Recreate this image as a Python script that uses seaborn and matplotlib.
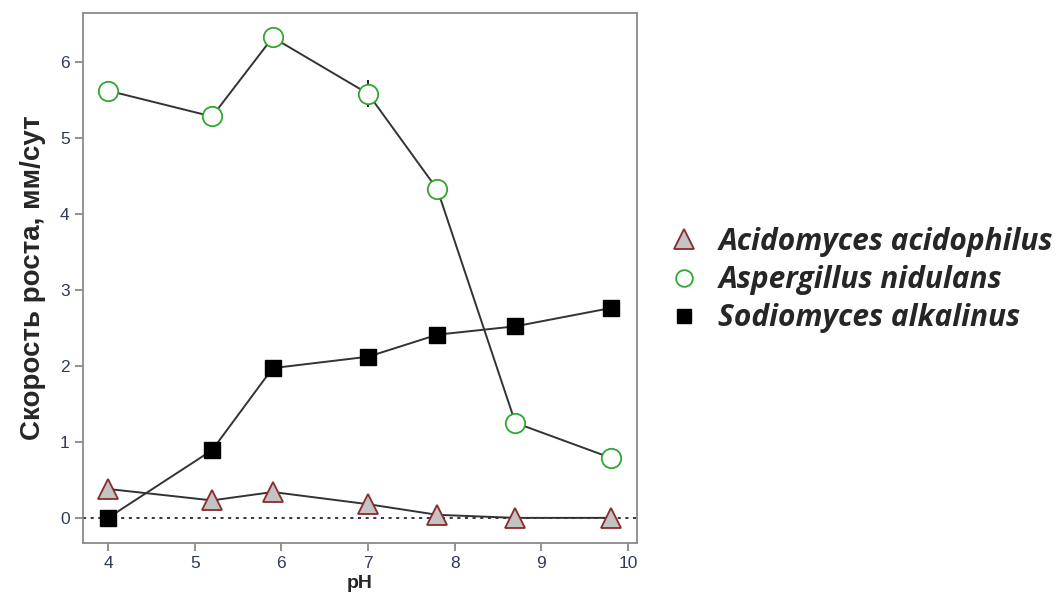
import numpy as np
import pandas as pd
import matplotlib.pyplot as plt
import seaborn as sns
from matplotlib.lines import Line2D

# данные
ph = [4.0, 5.2, 5.9, 7.0, 7.8, 8.7, 9.8]
acidomyces = [0.38, 0.23, 0.34, 0.18, 0.04, 0.0, 0.0]
aspergillus = [5.62, 5.28, 6.32, 5.58, 4.32, 1.25, 0.79]
aspergillus_err = [0, 0, 0, 0.18, 0, 0, 0]
sodiomyces = [0.0, 0.89, 1.97, 2.12, 2.41, 2.52, 2.76]

species = ["Acidomyces acidophilus", "Aspergillus nidulans", "Sodiomyces alkalinus"]

sns.set_style("ticks")
plt.rcParams['font.family'] = ['Liberation Sans', 'DejaVu Sans']

fig = plt.figure(figsize=(10.63, 5.96), dpi=100)
ax = fig.add_axes([0.078, 0.089, 0.521, 0.889])

line_col = "#333333"
# стили маркеров для каждого вида
styles = {
    species[0]: dict(marker="^", markersize=15, markerfacecolor="#c3c3c3",
                     markeredgecolor="#8b2a2a", markeredgewidth=1.3),
    species[1]: dict(marker="o", markersize=14, markerfacecolor="white",
                     markeredgecolor="#2ea82e", markeredgewidth=1.3),
    species[2]: dict(marker="s", markersize=11, markerfacecolor="black",
                     markeredgecolor="black", markeredgewidth=1.0),
}

ax.axhline(0, color="black", linestyle=(0, (2, 3)), linewidth=1.1, zorder=1)

ax.errorbar(ph, aspergillus, yerr=aspergillus_err, fmt="none",
            ecolor="black", elinewidth=1.2, capsize=0, zorder=2)

for name, vals in zip(species, [acidomyces, aspergillus, sodiomyces]):
    df = pd.DataFrame({"pH": ph, "v": vals})
    sns.lineplot(data=df, x="pH", y="v", ax=ax, color=line_col,
                 linewidth=1.4, zorder=3, **styles[name])

ax.set_xlim(3.71, 10.1)
ax.set_ylim(-0.33, 6.64)
ax.set_xticks([4, 5, 6, 7, 8, 9, 10])
ax.set_yticks([0, 1, 2, 3, 4, 5, 6])

for sp in ax.spines.values():
    sp.set_color("#8a8a8a")
    sp.set_linewidth(1.3)
ax.tick_params(axis="both", colors="#8a8a8a", length=6, width=1.3,
               labelcolor="#2f3b55", labelsize=12.5)

ax.set_xlabel("pH", fontsize=14, fontweight="bold", labelpad=3)
ax.set_ylabel("Скорость роста, мм/сут", fontsize=20, fontweight="bold",
              labelpad=10)

handles = [Line2D([], [], linestyle="none", **styles[n]) for n in species]
handles[0].set_markersize(15)
handles[1].set_markersize(12)
handles[2].set_markersize(10)
leg = fig.legend(handles, species, loc="center left",
                 bbox_to_anchor=(0.6, 0.53), frameon=False,
                 prop={"family": "Open Sans", "weight": "bold",
                       "style": "italic", "size": 21.5},
                 handletextpad=0.5, labelspacing=0.28, handlelength=1.3)

fig.savefig("out.png", dpi=100)
